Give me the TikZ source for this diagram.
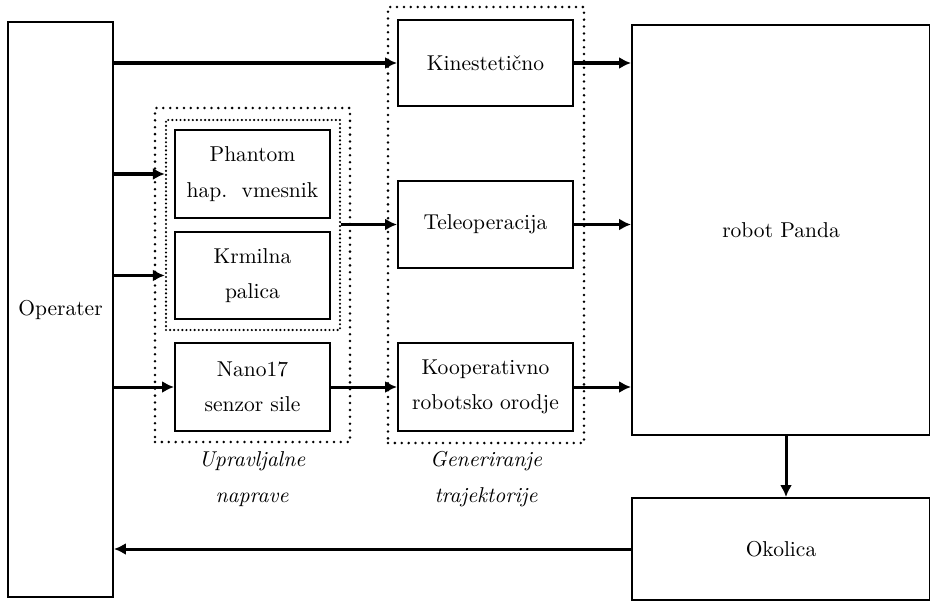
\documentclass[tikz,border=0pt]{standalone}
\usetikzlibrary{arrows.meta}
\begin{document}
\begin{tikzpicture}[x=0.465pt,y=-0.465pt,
  sz/.style 2 args={minimum width=#1*0.465pt, minimum height=#2*0.465pt},
  box/.style={draw, line width=0.9pt, inner sep=0pt, align=center},
  dotbox/.style={draw, line width=1.3pt, inner sep=0pt, dash pattern=on 0pt off 3.2pt, line cap=round},
  dotboxin/.style={draw, line width=1.1pt, inner sep=0pt, dash pattern=on 0pt off 1.9pt, line cap=round},
  arr/.style={line width=1.4pt, -{Latex[length=5.5pt,width=5.5pt]}},
  lab/.style={font=\itshape, align=center}]
\useasboundingbox (0,0) rectangle (930,601);
% main blocks
\node[box, sz={105}{575}] (op) at (60.5,309.5) {Operater};
\node[box, sz={175}{86}] (kin) at (485.5,63) {Kinestetično};
\node[box, sz={175}{87}] (tele) at (485.5,224.5) {Teleoperacija};
\node[box, sz={175}{88}] (koop) at (485.5,387) {Kooperativno\\[4.5pt]robotsko orodje};
\node[box, sz={298}{410}] (panda) at (781,230) {robot Panda};
\node[box, sz={298}{102}] (oko) at (781,549) {Okolica};
\node[box, sz={155}{88}] (ph) at (252.5,174) {Phantom\\[4.5pt]hap.\ \ vmesnik};
\node[box, sz={155}{87}] (krm) at (252.5,275.5) {Krmilna\\[4.5pt]palica};
\node[box, sz={155}{88}] (nano) at (252.5,387) {Nano17\\[4.5pt]senzor sile};
% dotted groups
\node[dotboxin, sz={174}{210}] (inner) at (253,225) {};
\node[dotbox, sz={195}{334}] (upr) at (252.5,275) {};
\node[dotbox, sz={196}{436}] (gen) at (486,225) {};
% labels
\node[lab] (uprl) at (252,479) {Upravljalne\\[4.5pt]naprave};
\node[lab] (genl) at (486,479) {Generiranje\\[4.5pt]trajektorije};
% connectors
\draw[arr] (op.east |- kin.west) -- (kin.west);
\draw[arr] (op.east |- ph.west) -- (inner.west |- ph.west);
\draw[arr] (op.east |- krm.west) -- (inner.west |- krm.west);
\draw[arr] (op.east |- nano.west) -- (nano.west);
\draw[arr] (inner.east |- tele.west) -- (tele.west);
\draw[arr] (nano.east) -- (koop.west);
\draw[arr] (kin.east) -- (panda.west |- kin.east);
\draw[arr] (tele.east) -- (panda.west |- tele.east);
\draw[arr] (koop.east) -- (panda.west |- koop.east);
\draw[arr] ([xshift=5*0.465pt]panda.south) -- ([xshift=5*0.465pt]oko.north);
\draw[arr] (oko.west) -- (op.east |- oko.west);
\end{tikzpicture}
\end{document}
